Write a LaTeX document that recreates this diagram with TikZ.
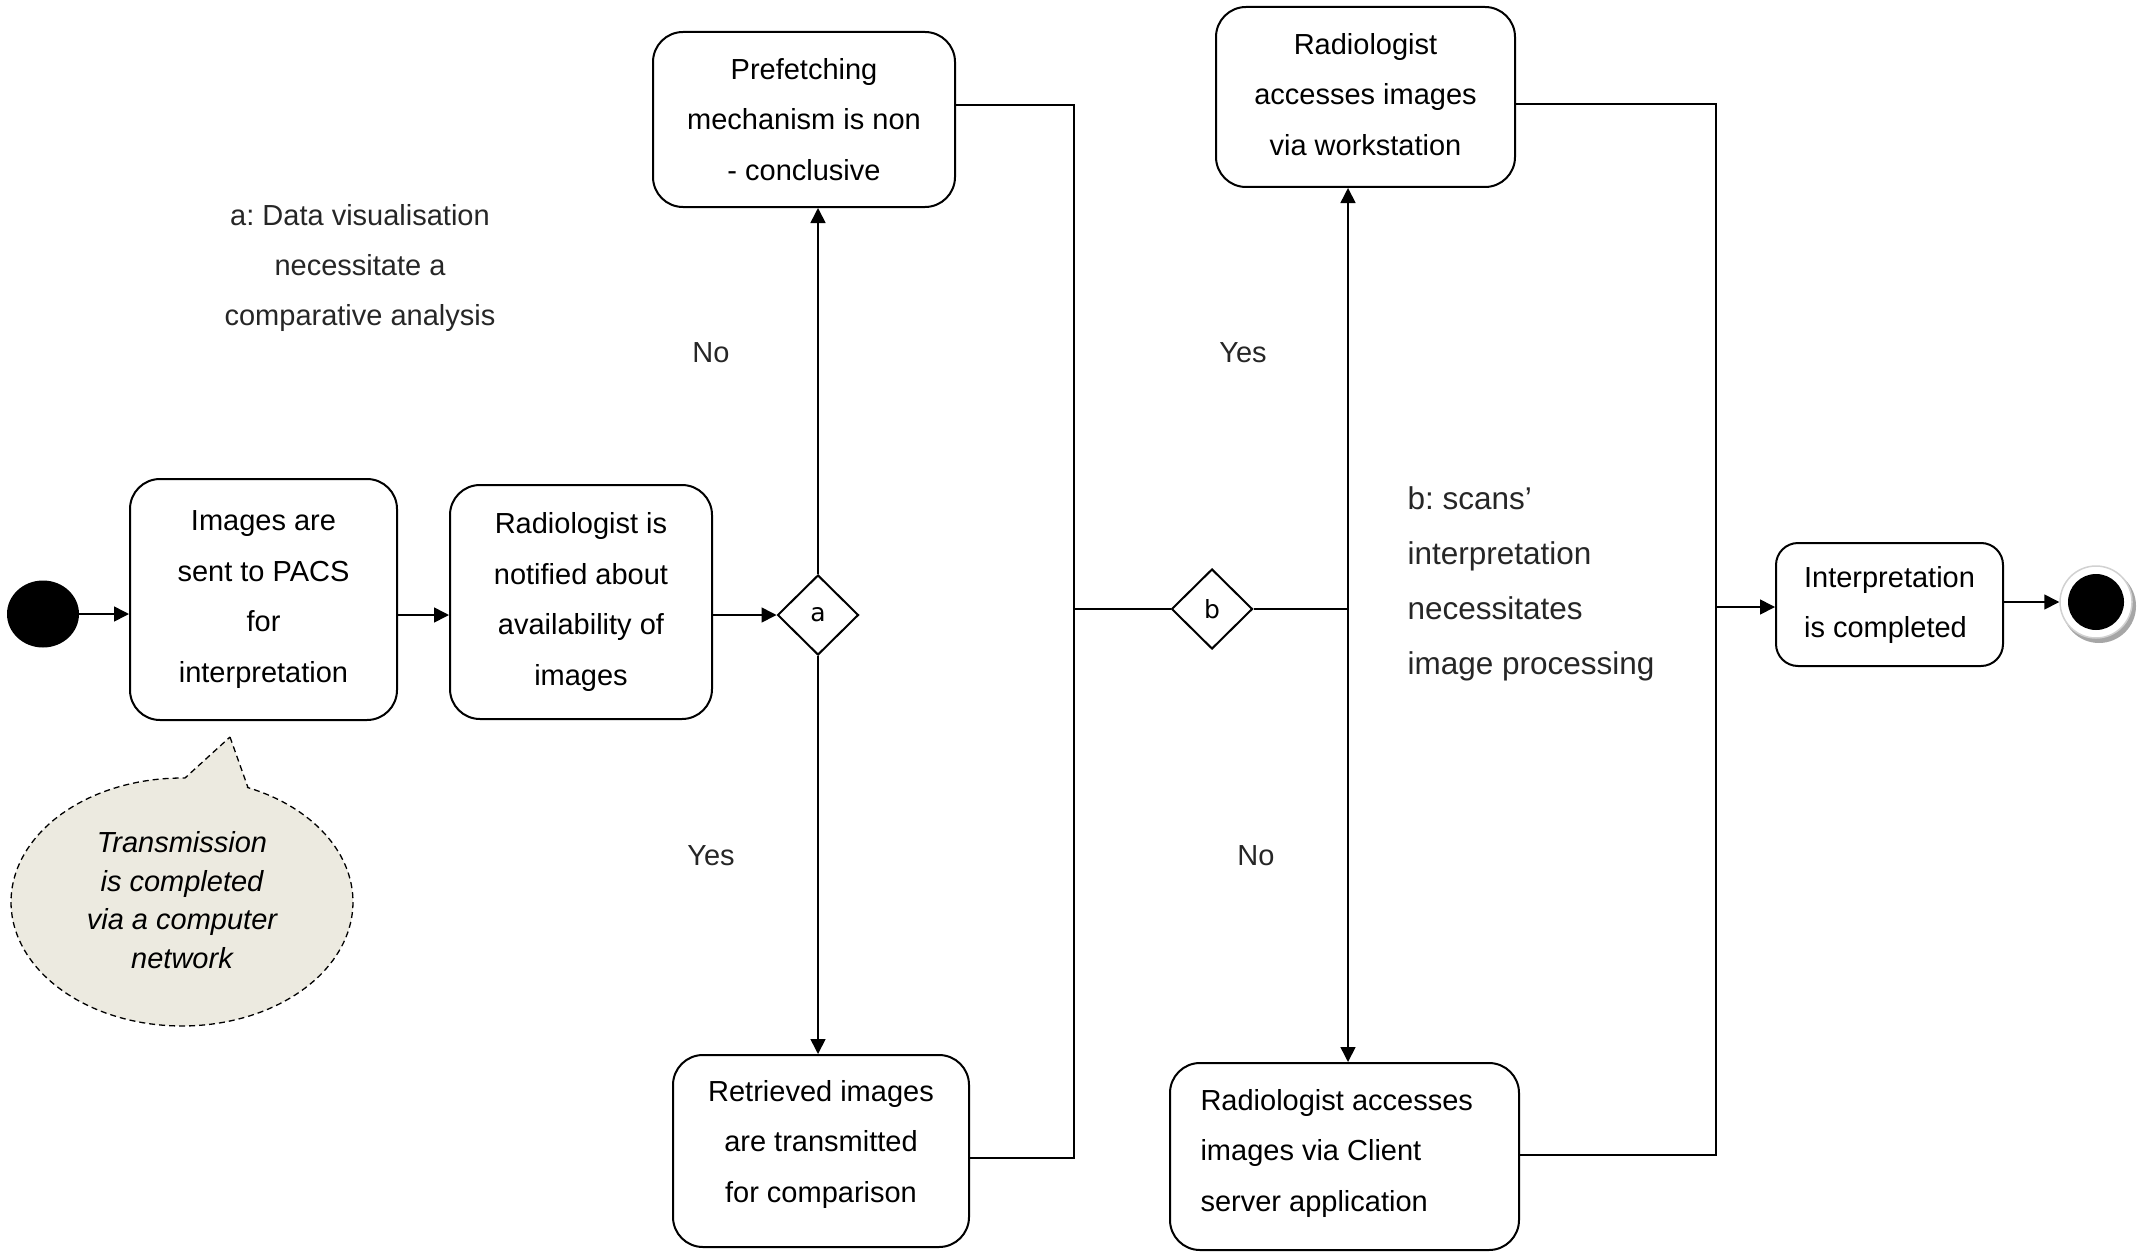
\documentclass[tikz,border=0pt]{standalone}
\usepackage{fontspec}
\setmainfont{Liberation Sans}
\newfontfamily\dejavu{DejaVu Sans}
\usetikzlibrary{shapes.geometric, arrows.meta}
\definecolor{calloutfill}{HTML}{ECEAE0}
\definecolor{labelc}{HTML}{262626}
\frenchspacing
\begin{document}
\begin{tikzpicture}[x=1pt,y=-1pt,
  act/.style={draw, line width=2pt, rounded corners=30pt, align=center, font=\fontsize{29}{50.5}\selectfont, inner sep=0pt},
  dec/.style={draw, diamond, line width=2pt, minimum width=81pt, minimum height=80pt, inner sep=0pt, font=\dejavu\fontsize{25}{28}\selectfont},
  conn/.style={line width=1.6pt},
  arr/.style={conn, -{Triangle[length=15pt,width=15pt]}},
  lbl/.style={text=labelc, font=\fontsize{29}{50}\selectfont, align=center},
]
\useasboundingbox (0,0) rectangle (2140,1252);

% activity boxes
\node[act, minimum width=267pt, minimum height=241pt] (box1) at (263.5,599.5) {Images are\\sent to PACS\\for\\interpretation};
\node[act, minimum width=262pt, minimum height=234pt] (box2) at (581,602) {Radiologist is\\notified about\\availability of\\images};
\node[act, minimum width=302pt, minimum height=175pt] (pre) at (804,119.5) {Prefetching\\mechanism is non\\- conclusive};
\node[act, minimum width=296pt, minimum height=192pt] (ret) at (821,1151) {};
\node[align=center, font=\fontsize{29}{50.5}\selectfont] (rettext) at (821,1144) {Retrieved images\\are transmitted\\for comparison};
\node[act, minimum width=299pt, minimum height=180pt] (ws) at (1365.5,97) {};
\node[align=center, font=\fontsize{29}{50.5}\selectfont] (wstext) at (1365.5,94.5) {Radiologist\\accesses images\\via workstation};
\node[act, minimum width=349pt, minimum height=187pt] (cl) at (1344.5,1156.5) {};
\node[align=left, anchor=west, font=\fontsize{29}{50.5}\selectfont] (cltext) at (1197,1153) {Radiologist accesses\\images via Client\\server application};
\node[act, align=left, rounded corners=22pt, minimum width=227pt, minimum height=123pt, font=\fontsize{29}{50}\selectfont] (interp) at (1889.5,604.5) {Interpretation\\is completed};

% decisions
\node[dec] (da) at (818,615) {a};
\node[dec] (db) at (1212,609) {b};

% start / end
\node[ellipse, fill=black, minimum width=72pt, minimum height=67pt, inner sep=0pt] (start) at (43,614) {};
\fill[black!35] (2099,606) circle[radius=37];
\node[circle, draw=black!18, line width=1.5pt, fill=white, minimum size=72pt, inner sep=0pt] (endc) at (2096,602) {};
\fill[black] (endc.center) circle[radius=28];

% connectors
\draw[arr] (start.east) -- (start.east -| box1.west);
\draw[arr] (box1.east |- da) -- (box2.west |- da);
\draw[arr] (box2.east |- da) -- (da.west);
\draw[arr] (da.north) -- (da.north |- pre.south);
\draw[arr] (da.south) -- (da.south |- ret.north);

\coordinate (bus1t) at (1074,105);
\coordinate (bus1b) at (1074,1158);
\draw[conn] (pre.east |- bus1t) -- (bus1t) -- (bus1b) -- (ret.east |- bus1b);
\draw[conn] (bus1t |- db) -- (db.west);

\coordinate (jb) at (1348,609);
\draw[conn] (db.east) -- (jb);
\draw[arr] (jb) -- (jb |- ws.south);
\draw[arr] (jb) -- (jb |- cl.north);

\coordinate (bus2t) at (1716,104);
\coordinate (bus2b) at (1716,1155);
\coordinate (bus2m) at (1716,607);
\draw[conn] (ws.east |- bus2t) -- (bus2t) -- (bus2b) -- (cl.east |- bus2b);
\draw[arr] (bus2m) -- (bus2m -| interp.west);
\draw[arr] (interp.east |- endc) -- (endc.west);

% labels
\node[lbl] (la) at (360,268) {a: Data visualisation\\necessitate a\\comparative analysis};
\node[lbl] (no1) at (711,353) {No};
\node[lbl] (yes1) at (711,856) {Yes};
\node[lbl] (yes2) at (1243,353) {Yes};
\node[lbl] (no2) at (1256,856) {No};
\node[lbl, align=left, anchor=west, font=\fontsize{31.5}{55}\selectfont] (lb) at (1404,584) {b: scans’\\interpretation\\necessitates\\image processing};

% callout
\draw[dash pattern=on 6pt off 4pt, line width=1.3pt, fill=calloutfill]
  (230,737) -- (248,787.6) -- plot[domain=-67.3:271, samples=150] ({182+171*cos(\x)},{902+124*sin(\x)}) -- cycle;
\node[font=\itshape\fontsize{29}{38.5}\selectfont, align=center] (note) at (182,900) {Transmission\\is completed\\via a computer\\network};
\end{tikzpicture}
\end{document}
